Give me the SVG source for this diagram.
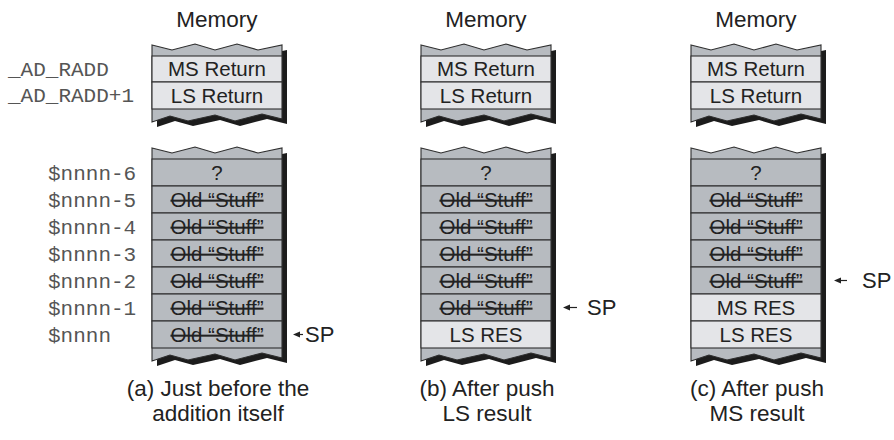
<svg xmlns="http://www.w3.org/2000/svg" width="894" height="440" viewBox="0 0 894 440">
<style>
.bg{fill:#fff}
.g{fill:#b7bbc0;stroke:#2e2e2e;stroke-width:1.1}
.l{fill:#e4e5e8;stroke:#2e2e2e;stroke-width:1.1}
.sh{fill:#1c1c1c}
.t{font-family:"Liberation Sans",Arial,sans-serif;font-size:20.5px;fill:#222;text-anchor:middle}
.s{text-decoration:line-through}
.h{font-family:"Liberation Sans",Arial,sans-serif;font-size:22.5px;fill:#222;text-anchor:middle}
.sp{font-family:"Liberation Sans",Arial,sans-serif;font-size:22px;fill:#222}
.m{font-family:"Liberation Mono","Courier New",monospace;font-size:21px;fill:#555}
.ar{stroke:#222;stroke-width:1.2;fill:none}
.ah{fill:#222}
</style>
<defs>
<path id="topblk" d="M0,45 L20,50 L43,44 L63,50 L85,44 L106,50 L130,45 L130,119 L110,114 L83,121 L63,115 L36,121 L18,116 L0,122 Z"/>
<path id="lowblk" d="M0,148 L20,153 L43,147 L63,153 L85,147 L106,153 L130,148 L130,358 L110,353 L83,360 L63,354 L36,360 L18,355 L0,361 Z"/>
</defs>
<rect class="bg" x="0" y="0" width="894" height="440"/>

<g id="labels">
<text class="m" x="8" y="76">_AD_RADD</text>
<text class="m" x="8" y="102">_AD_RADD+1</text>
<text class="m" x="48" y="180">$nnnn-6</text>
<text class="m" x="48" y="207">$nnnn-5</text>
<text class="m" x="48" y="234">$nnnn-4</text>
<text class="m" x="48" y="261">$nnnn-3</text>
<text class="m" x="48" y="288">$nnnn-2</text>
<text class="m" x="48" y="315">$nnnn-1</text>
<text class="m" x="48" y="342">$nnnn</text>
</g>

<g id="colA" transform="translate(152,0)">
<text class="h" x="65" y="27">Memory</text>
<use href="#topblk" class="sh" transform="translate(5,5)"/>
<use href="#topblk" class="g"/>
<rect class="l" x="0" y="56" width="130" height="26"/>
<rect class="l" x="0" y="82" width="130" height="27"/>
<text class="t" x="65" y="76">MS Return</text>
<text class="t" x="65" y="103">LS Return</text>
<use href="#lowblk" class="sh" transform="translate(5,5)"/>
<use href="#lowblk" class="g"/>
<rect class="g" x="0" y="159" width="130" height="27"/>
<rect class="g" x="0" y="186" width="130" height="27"/>
<rect class="g" x="0" y="213" width="130" height="27"/>
<rect class="g" x="0" y="240" width="130" height="27"/>
<rect class="g" x="0" y="267" width="130" height="27"/>
<rect class="g" x="0" y="294" width="130" height="27"/>
<rect class="g" x="0" y="321" width="130" height="27"/>
<text class="t" x="65" y="180">?</text>
<text class="t s" x="65" y="207">Old “Stuff”</text>
<text class="t s" x="65" y="234">Old “Stuff”</text>
<text class="t s" x="65" y="261">Old “Stuff”</text>
<text class="t s" x="65" y="288">Old “Stuff”</text>
<text class="t s" x="65" y="315">Old “Stuff”</text>
<text class="t s" x="65" y="342">Old “Stuff”</text>
<text class="h" x="66" y="396">(a) Just before the</text>
<text class="h" x="66" y="421">addition itself</text>
</g>

<g id="colB" transform="translate(421,0)">
<text class="h" x="65" y="27">Memory</text>
<use href="#topblk" class="sh" transform="translate(5,5)"/>
<use href="#topblk" class="g"/>
<rect class="l" x="0" y="56" width="130" height="26"/>
<rect class="l" x="0" y="82" width="130" height="27"/>
<text class="t" x="65" y="76">MS Return</text>
<text class="t" x="65" y="103">LS Return</text>
<use href="#lowblk" class="sh" transform="translate(5,5)"/>
<use href="#lowblk" class="g"/>
<rect class="g" x="0" y="159" width="130" height="27"/>
<rect class="g" x="0" y="186" width="130" height="27"/>
<rect class="g" x="0" y="213" width="130" height="27"/>
<rect class="g" x="0" y="240" width="130" height="27"/>
<rect class="g" x="0" y="267" width="130" height="27"/>
<rect class="g" x="0" y="294" width="130" height="27"/>
<rect class="l" x="0" y="321" width="130" height="27"/>
<text class="t" x="65" y="180">?</text>
<text class="t s" x="65" y="207">Old “Stuff”</text>
<text class="t s" x="65" y="234">Old “Stuff”</text>
<text class="t s" x="65" y="261">Old “Stuff”</text>
<text class="t s" x="65" y="288">Old “Stuff”</text>
<text class="t s" x="65" y="315">Old “Stuff”</text>
<text class="t" x="65" y="342">LS RES</text>
<text class="h" x="66" y="396">(b) After push</text>
<text class="h" x="66" y="421">LS result</text>
</g>

<g id="colC" transform="translate(691,0)">
<text class="h" x="65" y="27">Memory</text>
<use href="#topblk" class="sh" transform="translate(5,5)"/>
<use href="#topblk" class="g"/>
<rect class="l" x="0" y="56" width="130" height="26"/>
<rect class="l" x="0" y="82" width="130" height="27"/>
<text class="t" x="65" y="76">MS Return</text>
<text class="t" x="65" y="103">LS Return</text>
<use href="#lowblk" class="sh" transform="translate(5,5)"/>
<use href="#lowblk" class="g"/>
<rect class="g" x="0" y="159" width="130" height="27"/>
<rect class="g" x="0" y="186" width="130" height="27"/>
<rect class="g" x="0" y="213" width="130" height="27"/>
<rect class="g" x="0" y="240" width="130" height="27"/>
<rect class="g" x="0" y="267" width="130" height="27"/>
<rect class="l" x="0" y="294" width="130" height="27"/>
<rect class="l" x="0" y="321" width="130" height="27"/>
<text class="t" x="65" y="180">?</text>
<text class="t s" x="65" y="207">Old “Stuff”</text>
<text class="t s" x="65" y="234">Old “Stuff”</text>
<text class="t s" x="65" y="261">Old “Stuff”</text>
<text class="t s" x="65" y="288">Old “Stuff”</text>
<text class="t" x="65" y="315">MS RES</text>
<text class="t" x="65" y="342">LS RES</text>
<text class="h" x="66" y="396">(c) After push</text>
<text class="h" x="66" y="421">MS result</text>
</g>

<g id="connectors">
<line class="ar" x1="298" y1="334.5" x2="303" y2="334.5"/>
<path class="ah" d="M293,334.5 L300,331.5 L300,337.5 Z"/>
<text class="sp" x="305" y="342">SP</text>
<line class="ar" x1="568" y1="307.5" x2="577" y2="307.5"/>
<path class="ah" d="M563,307.5 L570,304.5 L570,310.5 Z"/>
<text class="sp" x="587" y="315">SP</text>
<line class="ar" x1="839" y1="280.5" x2="847" y2="280.5"/>
<path class="ah" d="M834,280.5 L841,277.5 L841,283.5 Z"/>
<text class="sp" x="862" y="288">SP</text>
</g>
</svg>
